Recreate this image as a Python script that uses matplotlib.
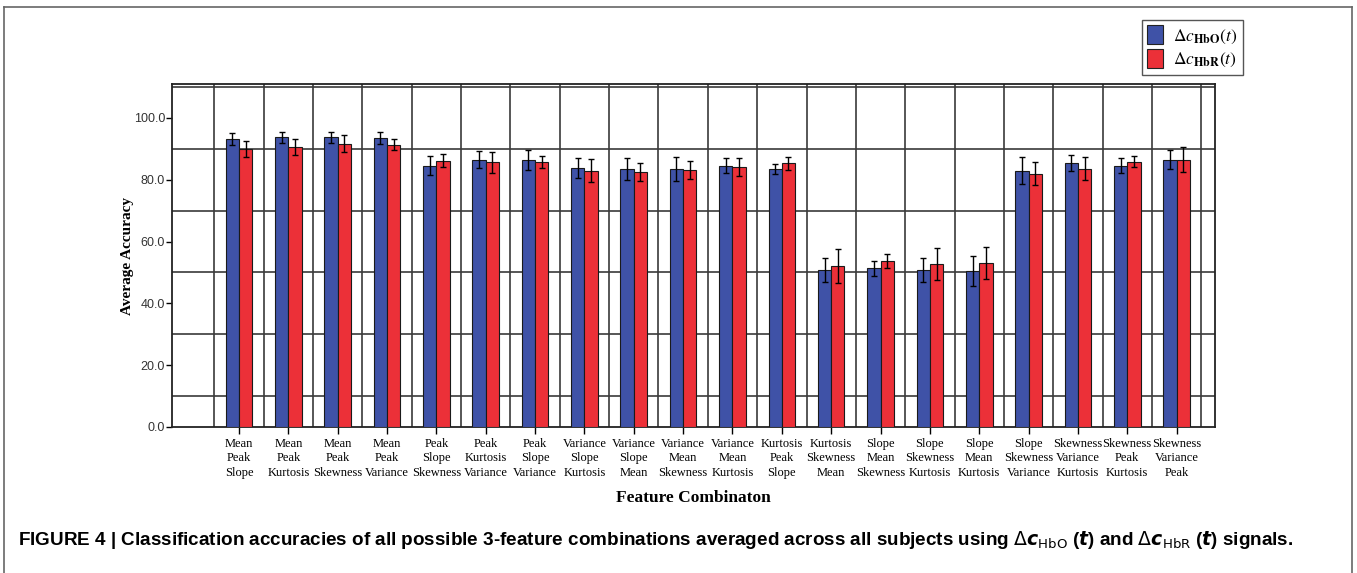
import matplotlib.pyplot as plt
import numpy as np
from matplotlib.lines import Line2D
from matplotlib.patches import Patch

combos = [
    ["Mean", "Peak", "Slope"], ["Mean", "Peak", "Kurtosis"], ["Mean", "Peak", "Skewness"],
    ["Mean", "Peak", "Variance"], ["Peak", "Slope", "Skewness"], ["Peak", "Kurtosis", "Variance"],
    ["Peak", "Slope", "Variance"], ["Variance", "Slope", "Kurtosis"], ["Variance", "Slope", "Mean"],
    ["Variance", "Mean", "Skewness"], ["Variance", "Mean", "Kurtosis"], ["Kurtosis", "Peak", "Slope"],
    ["Kurtosis", "Skewness", "Mean"], ["Slope", "Mean", "Skewness"], ["Slope", "Skewness", "Kurtosis"],
    ["Slope", "Mean", "Kurtosis"], ["Slope", "Skewness", "Variance"], ["Skewness", "Variance", "Kurtosis"],
    ["Skewness", "Peak", "Kurtosis"], ["Skewness", "Variance", "Peak"],
]
hbo = [93.2, 93.7, 93.7, 93.5, 84.6, 86.5, 86.4, 83.7, 83.5, 83.5,
       84.6, 83.5, 50.8, 51.4, 50.8, 50.5, 83.0, 85.4, 84.6, 86.5]
hbo_err = [2.0, 1.9, 1.9, 1.9, 3.0, 2.7, 3.2, 3.2, 3.5, 4.0,
           2.4, 1.6, 3.8, 2.4, 3.9, 4.9, 4.4, 2.5, 2.3, 3.1]
hbr = [90.1, 90.7, 91.7, 91.4, 86.2, 85.6, 85.8, 83.0, 82.5, 83.2,
       84.0, 85.3, 52.0, 53.7, 52.8, 53.1, 82.0, 83.6, 85.9, 86.5]
hbr_err = [2.6, 2.6, 2.8, 1.9, 2.1, 3.3, 1.9, 3.7, 3.0, 2.8,
           2.9, 2.0, 5.5, 2.4, 5.1, 5.3, 3.8, 3.7, 1.7, 4.0]

blue = "#3F52A7"
red = "#EC3038"
grid_c = "#3a3a3a"

fig = plt.figure(figsize=(13.57, 5.73), dpi=100)
ax = fig.add_axes([0.1268, 0.2548, 0.7686, 0.5986])

x = np.arange(len(combos))
w = 0.27
ekw = dict(ecolor="black", elinewidth=1.0, capsize=2, capthick=1.0, zorder=4)
ax.bar(x - w / 2, hbo, w, yerr=hbo_err, color=blue, edgecolor="#1a1a1a",
       linewidth=0.8, error_kw=ekw, zorder=3)
ax.bar(x + w / 2, hbr, w, yerr=hbr_err, color=red, edgecolor="#1a1a1a",
       linewidth=0.8, error_kw=ekw, zorder=3)

# table-like background grid
for v in [10, 30, 50, 70, 90, 110]:
    ax.axhline(v, color=grid_c, lw=1.2, zorder=1)
for xv in np.arange(-0.5, len(combos), 1):
    ax.axvline(xv, color=grid_c, lw=1.2, zorder=1)

ax.set_xlim(-1.358, 19.78)
ax.set_ylim(0, 111)
ax.set_yticks(np.arange(0, 101, 20))
ax.set_yticklabels([f"{v:.1f}" for v in np.arange(0, 101, 20)],
                   family="Liberation Sans", fontsize=9, color="#333333")
ax.set_xticks(x)
ax.set_xticklabels(["\n".join(c) for c in combos], family="Liberation Serif",
                   fontsize=9, linespacing=1.25)
ax.tick_params(axis="x", length=5, width=1, pad=3)
ax.tick_params(axis="y", length=4, width=1, pad=1)
for s in ax.spines.values():
    s.set_linewidth(1.3)
    s.set_color("#222222")

ax.set_ylabel("Average Accuracy", family="Liberation Serif", fontweight="bold",
              fontsize=11, labelpad=0)
ax.set_xlabel("Feature Combinaton", family="Liberation Serif", fontweight="bold",
              fontsize=12.5, labelpad=8)

handles = [Patch(facecolor=blue, edgecolor="#222222", lw=0.8),
           Patch(facecolor=red, edgecolor="#222222", lw=0.8)]
labels = [r"$\Delta c_{\mathbf{HbO}}(t)$", r"$\Delta c_{\mathbf{HbR}}(t)$"]
fig.legend(handles, labels, loc="upper right", bbox_to_anchor=(0.916, 0.965),
           borderaxespad=0, fancybox=False, edgecolor="#555555", framealpha=1,
           prop=dict(size=12.5, math_fontfamily="stix"),
           handlelength=0.9, handleheight=1.3, handletextpad=0.6,
           borderpad=0.3, labelspacing=0.2)

fig.text(0.013, 0.058,
         r"FIGURE 4 | Classification accuracies of all possible 3-feature combinations "
         r"averaged across all subjects using $\Delta\boldsymbol{c}_{\mathrm{HbO}}$ ($\boldsymbol{t}$)"
         r" and $\Delta\boldsymbol{c}_{\mathrm{HbR}}$ ($\boldsymbol{t}$) signals.",
         family="Liberation Sans", fontweight="bold", fontsize=13.6, va="center")

# outer frame of the figure panel
fc = "#666666"
fig.add_artist(Line2D([0.003, 0.003], [0.0, 0.988], color=fc, lw=1.2))
fig.add_artist(Line2D([0.003, 0.9965], [0.988, 0.988], color=fc, lw=1.2))
fig.add_artist(Line2D([0.9965, 0.9965], [0.0, 0.988], color=fc, lw=1.2))

fig.savefig("out.png", dpi=100)
